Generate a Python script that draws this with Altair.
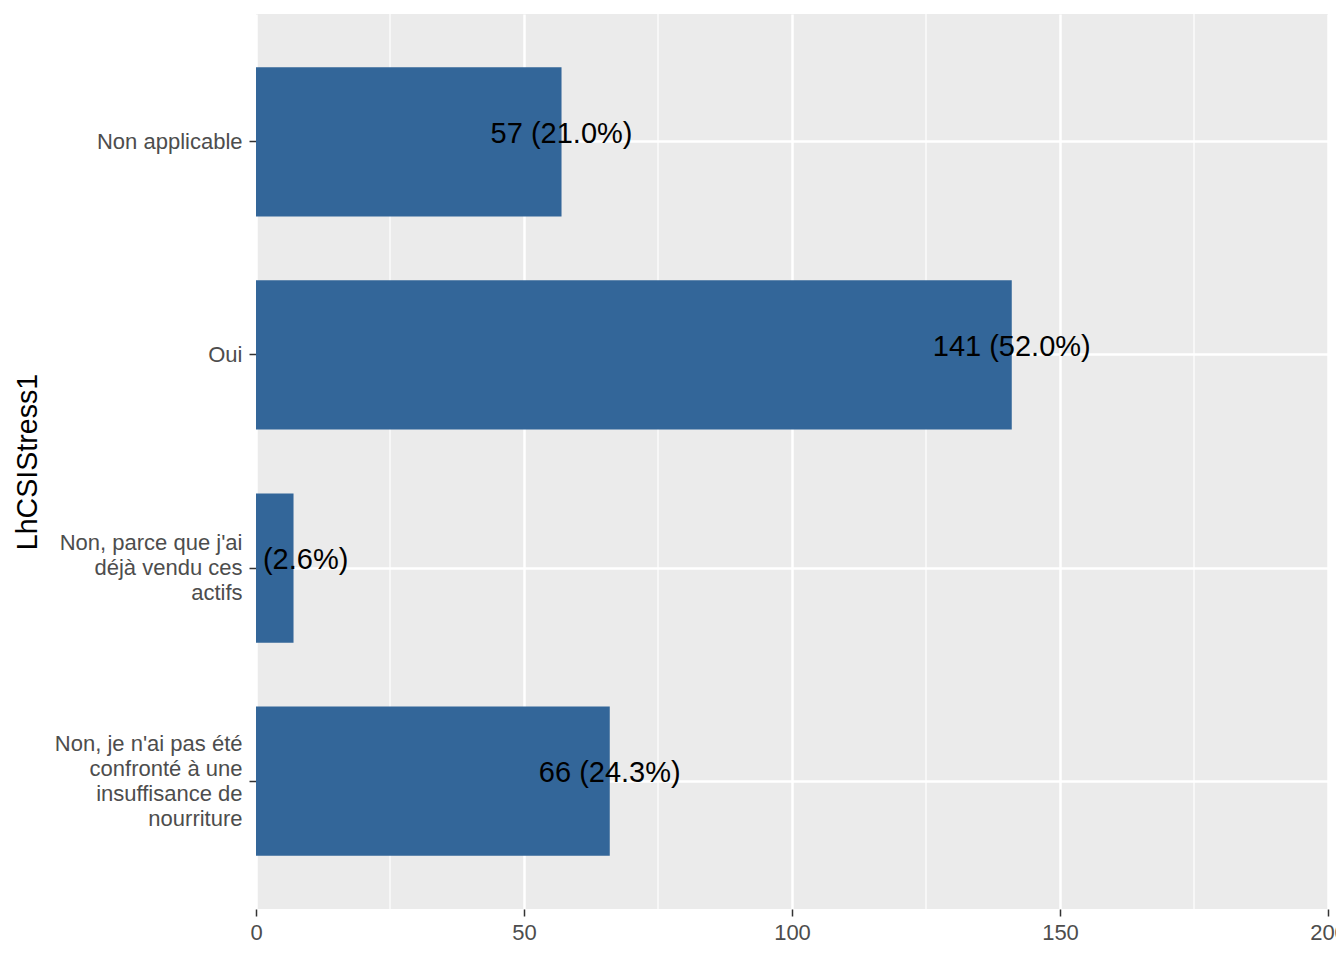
import altair as alt
import pandas as pd

categories = [
    "Non applicable",
    "Oui",
    "Non, parce que j'ai\ndéjà vendu ces\nactifs\u00a0",
    "Non, je n'ai pas été\nconfronté à une\ninsuffisance de\nnourriture",
]
counts = [57, 141, 7, 66]
percents = [21.0, 52.0, 2.6, 24.3]
major_ticks = [0, 50, 100, 150, 200]
minor_ticks = [25, 75, 125, 175]

df = pd.DataFrame({"cat": categories, "n": counts, "pct": percents})
df["label"] = [f"{n} ({p:.1f}%)" for n, p in zip(counts, percents)]
minor_df = pd.DataFrame({"n": minor_ticks})

FONT = "Liberation Sans"
x_scale = alt.Scale(domain=[0, 200], nice=False, zero=True)
y_scale = alt.Scale(paddingInner=0.3, paddingOuter=0.25)

y_axis = alt.Axis(
    grid=True,
    gridColor="white",
    gridWidth=2.5,
    domain=False,
    tickColor="#333333",
    tickSize=7,
    tickWidth=1.5,
    labelColor="#4D4D4D",
    labelFont=FONT,
    labelFontSize=22,
    labelPadding=7,
    labelLimit=500,
    labelLineHeight=25,
    labelExpr="split(datum.label, '\\n')",
    labelOffset={
        "condition": [
            {"test": "length(split(datum.value, '\\n')) == 4", "value": -37.5},
            {"test": "length(split(datum.value, '\\n')) == 3", "value": -25},
        ],
        "value": 0,
    },
    title="LhCSIStress1",
    titleFont=FONT,
    titleFontSize=28.6,
    titleFontWeight="normal",
    titleColor="black",
    titleAngle=270,
    titleX=-229,
    titleY=447.5,
    titleAlign="center",
    titleBaseline="middle",
)

x_axis = alt.Axis(
    values=major_ticks,
    grid=True,
    gridColor="white",
    gridWidth=2.5,
    domain=False,
    tickColor="#333333",
    tickSize=7,
    tickWidth=1.5,
    labelColor="#4D4D4D",
    labelFont=FONT,
    labelFontSize=22,
    labelPadding=6,
    labelFlush=False,
    labelOverlap=False,
    title=None,
)

minor = alt.Chart(minor_df).mark_rule(color="white", strokeWidth=1.2).encode(
    x=alt.X("n:Q", scale=x_scale, axis=x_axis)
)

base = alt.Chart(df)

bars = base.mark_bar(color="#336699").encode(
    x=alt.X("n:Q", scale=x_scale, axis=x_axis),
    y=alt.Y("cat:N", sort=categories, scale=y_scale, axis=y_axis),
)

texts = base.mark_text(
    font=FONT, fontSize=29, color="black", clip=True, baseline="middle", dy=-8
).encode(
    x=alt.X("n:Q", scale=x_scale, axis=x_axis),
    y=alt.Y("cat:N", sort=categories, scale=y_scale, axis=y_axis),
    text="label:N",
)

chart = (
    alt.layer(minor, bars, texts)
    .properties(
        width=1072,
        height=895,
        autosize=alt.AutoSizeParams(type="none"),
        padding={"left": 248, "top": 6, "right": 8, "bottom": 46},
    )
    .configure_view(fill="#EBEBEB", stroke=None)
)

chart.save("out.html", embed_options={"renderer": "svg", "actions": False})
